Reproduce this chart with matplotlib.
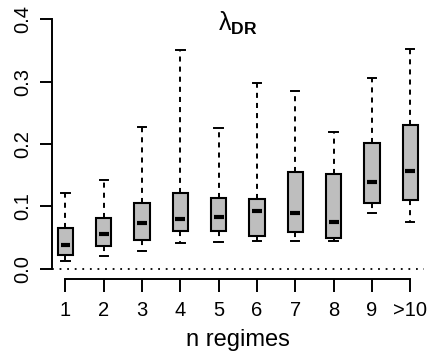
import matplotlib
matplotlib.use("Agg")
import matplotlib.pyplot as plt
import numpy as np

plt.rcParams['font.family'] = ['Liberation Sans', 'DejaVu Sans']
plt.rcParams['mathtext.fontset'] = 'custom'
plt.rcParams['mathtext.rm'] = 'Liberation Sans'
plt.rcParams['mathtext.bf'] = 'Liberation Sans:bold'

labels = ['1', '2', '3', '4', '5', '6', '7', '8', '9', '>10']
whislo = [0.012, 0.021, 0.028, 0.042, 0.043, 0.045, 0.045, 0.045, 0.089, 0.075]
q1 = [0.022, 0.037, 0.046, 0.061, 0.061, 0.052, 0.059, 0.049, 0.106, 0.111]
med = [0.039, 0.056, 0.074, 0.080, 0.083, 0.092, 0.089, 0.075, 0.140, 0.157]
q3 = [0.065, 0.081, 0.105, 0.121, 0.114, 0.112, 0.155, 0.152, 0.201, 0.230]
whishi = [0.122, 0.142, 0.228, 0.350, 0.226, 0.297, 0.285, 0.219, 0.305, 0.352]

stats = []
for i in range(len(labels)):
    stats.append(dict(label=labels[i], whislo=whislo[i], q1=q1[i], med=med[i],
                      q3=q3[i], whishi=whishi[i], fliers=[]))

pos = np.arange(1, len(labels) + 1)

fig = plt.figure(figsize=(4.43, 3.56), dpi=100)
ax = fig.add_axes([0.1167, 0.2163, 0.957 - 0.1167, 0.9747 - 0.2163])

ax.axhline(0, color='black', lw=1.3, ls=(0, (1, 3.2)), zorder=1)

ax.bxp(stats, positions=pos, widths=0.4, patch_artist=True, showfliers=False,
       capwidths=0.22,
       boxprops=dict(facecolor='#bebebe', edgecolor='black', linewidth=1.5),
       whiskerprops=dict(color='black', linewidth=1.4, linestyle=(0, (2.6, 2.6))),
       capprops=dict(color='black', linewidth=1.4),
       medianprops=dict(visible=False))
ax.hlines(med, pos - 0.13, pos + 0.13, colors='black', lw=3, zorder=5)

ax.set_xlim(0.64, 10.36)
ax.set_ylim(-0.016, 0.416)
ax.set_xticks(pos)
ax.set_xticklabels(labels, fontsize=14.5)
ax.set_yticks([0.0, 0.1, 0.2, 0.3, 0.4])
ax.set_yticklabels(['0.0', '0.1', '0.2', '0.3', '0.4'], fontsize=14.5,
                   rotation=90, va='center')
ax.spines['top'].set_visible(False)
ax.spines['right'].set_visible(False)
ax.spines['left'].set_bounds(0, 0.4)
ax.spines['bottom'].set_bounds(1, 10)
for s in ['left', 'bottom']:
    ax.spines[s].set_linewidth(1.4)
ax.tick_params(axis='both', length=9, width=1.4)
ax.tick_params(axis='x', pad=7)
ax.tick_params(axis='y', pad=5)

ax.set_xlabel('n regimes', fontsize=17, labelpad=6)
ax.text(0.5, 0.945, r'$\mathrm{\lambda}_{\mathbf{DR}}$', transform=ax.transAxes,
        ha='center', va='center', fontsize=18)

fig.savefig('out.png', dpi=100)
